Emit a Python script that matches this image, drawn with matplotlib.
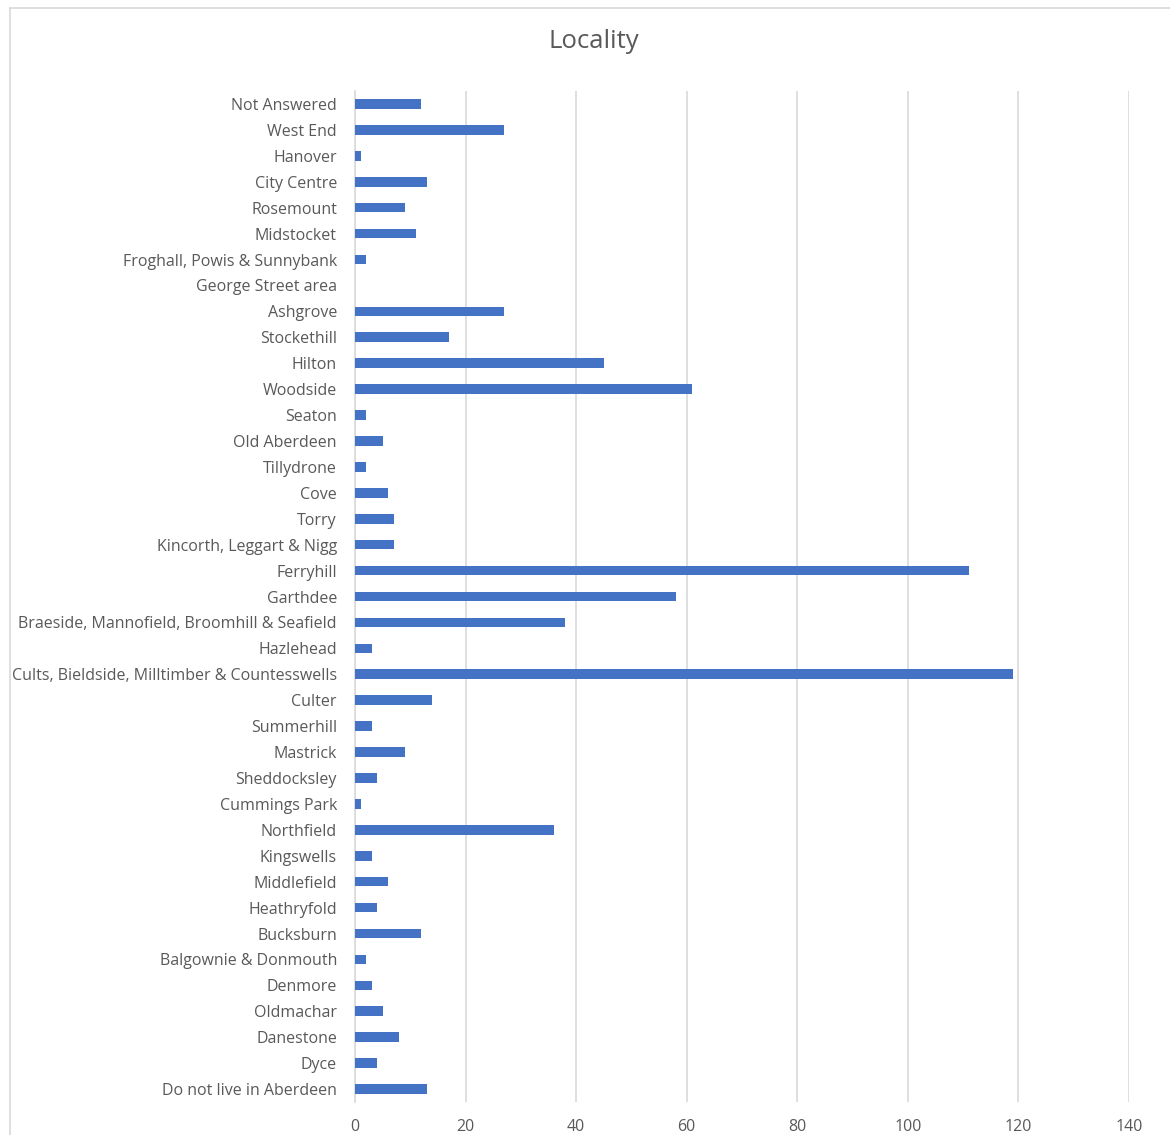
import matplotlib
matplotlib.use("Agg")
import matplotlib.pyplot as plt
from matplotlib.lines import Line2D

categories = [
    "Not Answered", "West End", "Hanover", "City Centre", "Rosemount", "Midstocket",
    "Froghall, Powis & Sunnybank", "George Street area", "Ashgrove", "Stockethill",
    "Hilton", "Woodside", "Seaton", "Old Aberdeen", "Tillydrone", "Cove", "Torry",
    "Kincorth, Leggart & Nigg", "Ferryhill", "Garthdee",
    "Braeside, Mannofield, Broomhill & Seafield", "Hazlehead",
    "Cults, Bieldside, Milltimber & Countesswells", "Culter", "Summerhill", "Mastrick",
    "Sheddocksley", "Cummings Park", "Northfield", "Kingswells", "Middlefield",
    "Heathryfold", "Bucksburn", "Balgownie & Donmouth", "Denmore", "Oldmachar",
    "Danestone", "Dyce", "Do not live in Aberdeen",
]
values = [12, 27, 1, 13, 9, 11, 2, 0, 27, 17, 45, 61, 2, 5, 2, 6, 7, 7, 111, 58,
          38, 3, 119, 14, 3, 9, 4, 1, 36, 3, 6, 4, 12, 2, 3, 5, 8, 4, 13]
xticks = [0, 20, 40, 60, 80, 100, 120, 140]

plt.rcParams['font.family'] = ['Open Sans', 'DejaVu Sans']
text_color = "#595959"
grid_color = "#D9D9D9"

fig = plt.figure(figsize=(11.7, 11.35), dpi=100)
W, H = 1170, 1135

# chart frame (left and top edges visible)
fig.add_artist(Line2D([10 / W, 10 / W], [0, 1 - 8 / H], transform=fig.transFigure,
                      color=grid_color, lw=1.2))
fig.add_artist(Line2D([10 / W, 1], [1 - 8 / H, 1 - 8 / H], transform=fig.transFigure,
                      color=grid_color, lw=1.2))

left, right = 355 / W, 1129 / W
top, bottom = 1 - 91 / H, 1 - 1102 / H
ax = fig.add_axes([left, bottom, right - left, top - bottom])

y = list(range(len(categories)))
ax.barh(y, values, height=0.37, color="#4472C4", zorder=3)
ax.set_ylim(len(categories) - 0.5, -0.5)
ax.set_xlim(0, 140)
ax.set_yticks(y)
ax.set_yticklabels(categories)
ax.set_xticks(xticks)
ax.set_xticklabels([str(t) for t in xticks])

ax.grid(axis="x", color=grid_color, lw=1.2, zorder=0)
ax.set_axisbelow(True)
for s in ["top", "right", "bottom"]:
    ax.spines[s].set_visible(False)
ax.spines["left"].set_color(grid_color)
ax.spines["left"].set_linewidth(1.2)
ax.tick_params(axis="both", length=0, colors=text_color, labelsize=11.5)
ax.tick_params(axis="y", pad=13)
ax.tick_params(axis="x", pad=12)

fig.text(594 / W, 1 - 42 / H, "Locality", ha="center", va="center",
         fontsize=18.5, color=text_color)

fig.savefig("out.png", dpi=100, facecolor="white")
